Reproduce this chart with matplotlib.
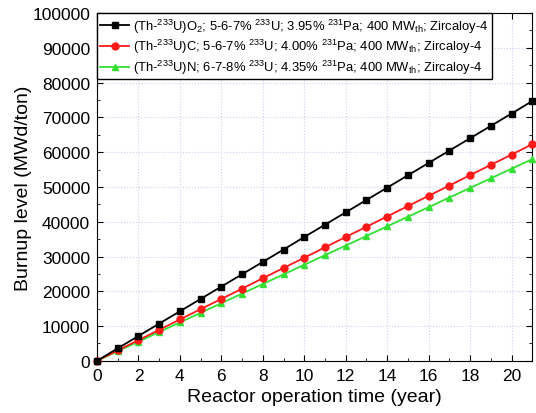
import matplotlib
matplotlib.use('Agg')
import matplotlib.pyplot as plt
from matplotlib.ticker import MultipleLocator

plt.rcParams['font.family'] = ['Liberation Sans', 'DejaVu Sans']
plt.rcParams['mathtext.fontset'] = 'custom'
plt.rcParams['mathtext.rm'] = 'Liberation Sans'

# reactor operation time (year)
years = list(range(22))

# burnup level (MWd/ton)
burnup_o2 = [0, 3600, 7150, 10700, 14250, 17800, 21350, 24900, 28450, 32000,
             35600, 39150, 42700, 46250, 49800, 53350, 56900, 60450, 64000,
             67550, 71100, 74700]
burnup_c = [0, 3000, 5950, 8900, 11900, 14850, 17800, 20750, 23750, 26700,
            29650, 32650, 35600, 38550, 41500, 44500, 47450, 50400, 53400,
            56350, 59300, 62300]
burnup_n = [0, 2760, 5520, 8290, 11050, 13810, 16570, 19330, 22100, 24860,
            27620, 30380, 33140, 35900, 38670, 41430, 44190, 46950, 49710,
            52470, 55240, 58000]

labels = [
    r'(Th-$^{233}$U)O$_2$; 5-6-7% $^{233}$U; 3.95% $^{231}$Pa; 400 MW$_{\rm th}$; Zircaloy-4',
    r'(Th-$^{233}$U)C; 5-6-7% $^{233}$U; 4.00% $^{231}$Pa; 400 MW$_{\rm th}$; Zircaloy-4',
    r'(Th-$^{233}$U)N; 6-7-8% $^{233}$U; 4.35% $^{231}$Pa; 400 MW$_{\rm th}$; Zircaloy-4',
]

fig = plt.figure(figsize=(5.36, 4.14), dpi=100)
ax = fig.add_axes([0.181, 0.126, 0.812, 0.840])

ax.plot(years, burnup_o2, '-s', color='black', ms=5, lw=1.3, label=labels[0], clip_on=False, zorder=5)
ax.plot(years, burnup_c, '-o', color='#ff1a1a', ms=5, lw=1.3, label=labels[1], clip_on=False, zorder=4)
ax.plot(years, burnup_n, '-^', color='#33e033', ms=5, lw=1.3, label=labels[2], clip_on=False, zorder=3)

ax.set_xlim(0, 21)
ax.set_ylim(0, 100000)
ax.xaxis.set_major_locator(MultipleLocator(2))
ax.xaxis.set_minor_locator(MultipleLocator(1))
ax.yaxis.set_major_locator(MultipleLocator(10000))
ax.yaxis.set_minor_locator(MultipleLocator(5000))
ax.tick_params(which='both', direction='in', top=True, right=True, labelsize=12.5)
ax.tick_params(which='major', length=4, pad=5)
ax.tick_params(which='minor', length=2)
ax.grid(True, which='major', color='#cfcff2', ls=':', lw=0.8)

ax.set_xlabel('Reactor operation time (year)', fontsize=14, labelpad=4)
ax.set_ylabel('Burnup level (MWd/ton)', fontsize=14, labelpad=0)

leg = ax.legend(loc='upper left', fontsize=9.4, fancybox=False, framealpha=1,
                edgecolor='black', borderaxespad=0.0, handlelength=2.2,
                handletextpad=0.3, borderpad=0.25, labelspacing=0.2)
leg.get_frame().set_linewidth(1.0)

fig.savefig('out.png', dpi=100)
